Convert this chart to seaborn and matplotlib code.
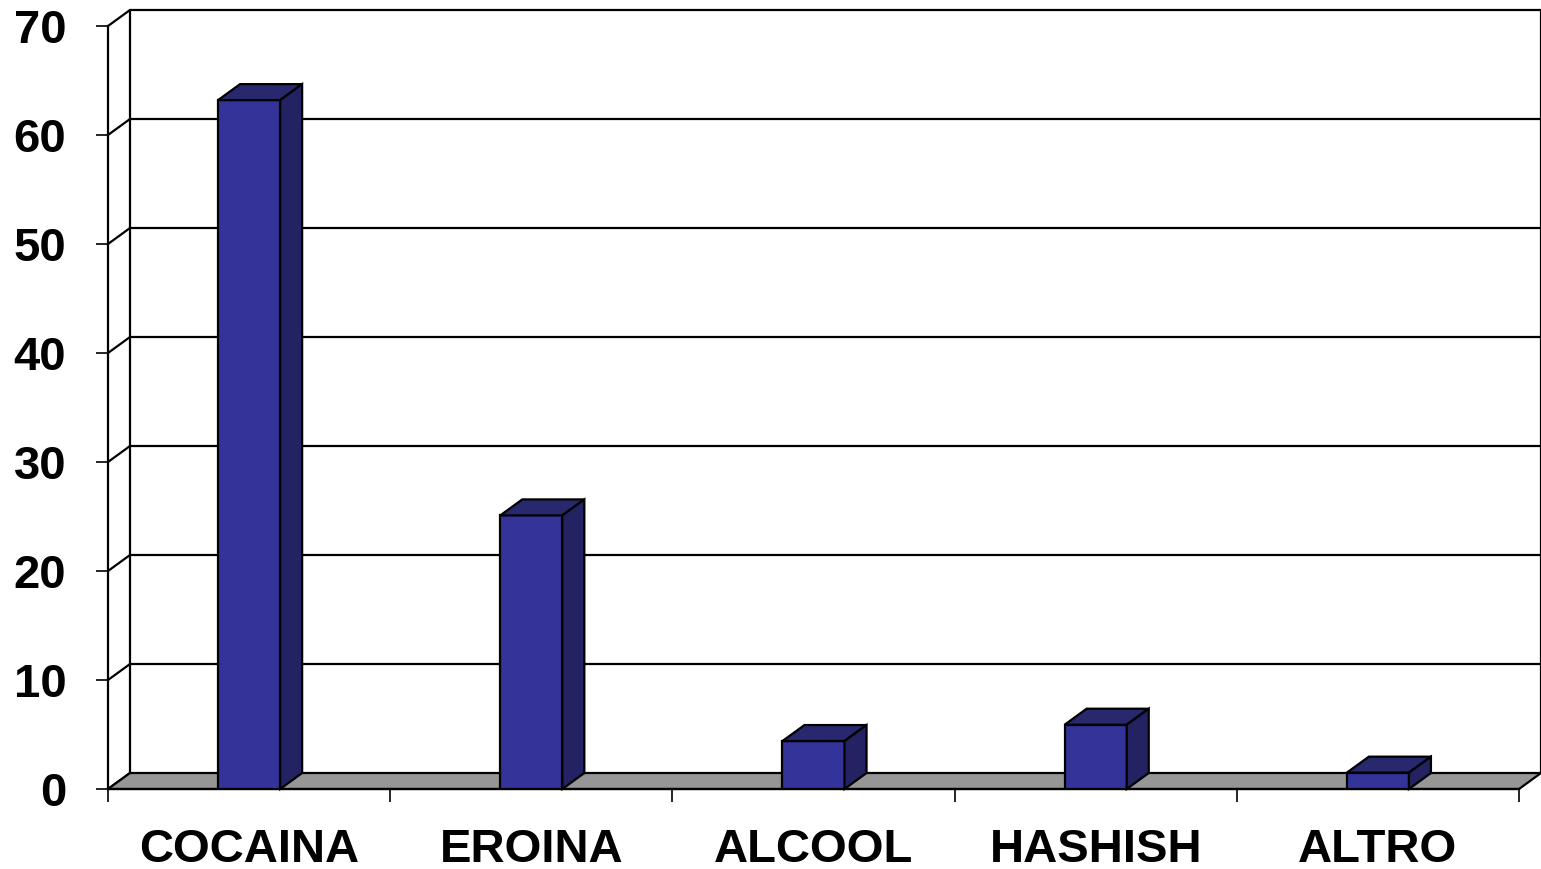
import numpy as np
import pandas as pd
import seaborn as sns
import matplotlib.pyplot as plt
from matplotlib.patches import Polygon

# data
categories = ["COCAINA", "EROINA", "ALCOOL", "HASHISH", "ALTRO"]
values = [63.2, 25.1, 4.4, 5.9, 1.5]
yticks = [0, 10, 20, 30, 40, 50, 60, 70]

FRONT = "#333399"
TOP = "#28286f"
SIDE = "#232363"
FLOOR = "#969696"
LW = 1.6

sns.set_style("white")
plt.rcParams["font.family"] = ["Liberation Sans", "DejaVu Sans"]
plt.rcParams["font.weight"] = "bold"
plt.rcParams["text.color"] = "black"
plt.rcParams["axes.labelcolor"] = "black"
plt.rcParams["axes.edgecolor"] = "black"
plt.rcParams["xtick.color"] = "black"
plt.rcParams["ytick.color"] = "black"

fig = plt.figure(figsize=(15.41, 8.69), dpi=100)
ax = fig.add_axes([108 / 1541, 80 / 869, (1519 - 108) / 1541, (789 - 26) / 869])

df = pd.DataFrame({"cat": categories, "val": values})
sns.barplot(data=df, x="cat", y="val", order=categories, color=FRONT, width=0.22,
            edgecolor="black", linewidth=LW, saturation=1, ax=ax, zorder=5)

ax.set_xlim(-0.5, len(categories) - 0.5)
ax.set_ylim(0, 70)
# depth offset of the pseudo-3d box (22 px right, 16 px up)
dx = 22 / (1519 - 108) * len(categories)
dy = 16 / (789 - 26) * 70
x0, x1 = -0.5, len(categories) - 0.5

# back wall: gridlines, side diagonals, outline
for v in yticks[1:]:
    ax.plot([x0 + dx, x1 + dx], [v + dy, v + dy], color="black", lw=LW, clip_on=False, zorder=1)
for v in yticks:
    ax.plot([x0, x0 + dx], [v, v + dy], color="black", lw=LW, clip_on=False, zorder=1)
ax.plot([x0 + dx, x0 + dx], [dy, 70 + dy], color="black", lw=LW, clip_on=False, zorder=1)
ax.plot([x1 + dx, x1 + dx], [dy, 70 + dy], color="black", lw=LW, clip_on=False, zorder=1)

# floor
floor = Polygon([[x0, 0], [x1, 0], [x1 + dx, dy], [x0 + dx, dy]], closed=True,
                facecolor=FLOOR, edgecolor="black", lw=LW, clip_on=False, zorder=2)
ax.add_patch(floor)

# top and side faces of each bar
for p in list(ax.patches):
    if p is floor:
        continue
    bx, bw, bh = p.get_x(), p.get_width(), p.get_height()
    top = Polygon([[bx, bh], [bx + bw, bh], [bx + bw + dx, bh + dy], [bx + dx, bh + dy]],
                  closed=True, facecolor=TOP, edgecolor="black", lw=LW, clip_on=False, zorder=5)
    side = Polygon([[bx + bw, 0], [bx + bw + dx, dy], [bx + bw + dx, bh + dy], [bx + bw, bh]],
                   closed=True, facecolor=SIDE, edgecolor="black", lw=LW, clip_on=False, zorder=5)
    ax.add_patch(top)
    ax.add_patch(side)

for s in ["top", "right"]:
    ax.spines[s].set_visible(False)
ax.spines["left"].set_linewidth(LW)
ax.spines["bottom"].set_linewidth(LW)
ax.spines["bottom"].set_zorder(3)

ax.set_yticks(yticks)
ax.tick_params(axis="y", direction="out", length=9, width=1.2, pad=21, labelsize=34,
               left=True, colors="black")
ax.set_xticks(np.arange(-0.5, len(categories)), minor=True)
ax.tick_params(axis="x", which="minor", direction="out", length=9, width=1.2, bottom=True,
               colors="black")
ax.tick_params(axis="x", which="major", length=0, pad=28, labelsize=34, colors="black")
for lab in ax.get_xticklabels() + ax.get_yticklabels():
    lab.set_fontweight("bold")
ax.set_xlabel("")
ax.set_ylabel("")

fig.savefig("out.png", dpi=100)
